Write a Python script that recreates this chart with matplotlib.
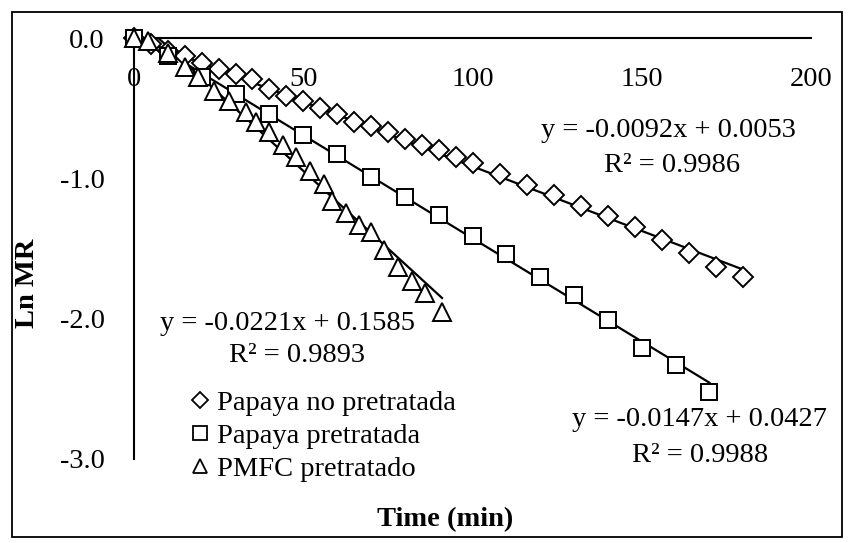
import matplotlib
matplotlib.use("Agg")
import matplotlib.pyplot as plt
from matplotlib.lines import Line2D
from matplotlib.patches import Rectangle
import numpy as np

plt.rcParams['font.family'] = ['Liberation Serif', 'DejaVu Serif']

# Papaya no pretratada (diamonds)
t_np = [0, 5, 10, 15, 20, 25, 30, 35, 40, 45, 50, 55, 60, 65, 70, 75, 80, 85, 90, 95, 100,
        108, 116, 124, 132, 140, 148, 156, 164, 172, 180]
ln_np = [0.0, -0.04, -0.09, -0.13, -0.18, -0.22, -0.26, -0.29, -0.36, -0.41, -0.45, -0.50,
         -0.54, -0.60, -0.63, -0.67, -0.72, -0.76, -0.80, -0.85, -0.89,
         -0.97, -1.05, -1.12, -1.20, -1.27, -1.35, -1.44, -1.53, -1.63, -1.70]

# Papaya pretratada (squares)
t_p = [0, 10, 20, 30, 40, 50, 60, 70, 80, 90, 100, 110, 120, 130, 140, 150, 160, 170]
ln_p = [0.0, -0.13, -0.28, -0.40, -0.54, -0.69, -0.83, -0.99, -1.13, -1.26, -1.41, -1.54,
        -1.70, -1.83, -2.01, -2.21, -2.33, -2.52]

# PMFC pretratado (triangles)
t_pm = [0, 4, 10, 15, 19, 23.5, 28, 33, 36, 40, 44, 48, 52, 56, 58.5, 62.5, 66.5, 70, 74, 78,
        82, 86, 91]
ln_pm = [0.0, -0.02, -0.11, -0.21, -0.28, -0.38, -0.45, -0.53, -0.60, -0.67, -0.76, -0.85,
         -0.95, -1.04, -1.16, -1.25, -1.33, -1.38, -1.51, -1.63, -1.73, -1.82, -1.95]

# Trendline coefficients (slope, intercept)
fit_np = (-0.0092, 0.0053)
fit_p = (-0.0147, 0.0427)
fit_pm = (-0.0221, 0.1585)

eq_np = ["y = -0.0092x + 0.0053", "R² = 0.9986"]
eq_p = ["y = -0.0147x + 0.0427", "R² = 0.9988"]
eq_pm = ["y = -0.0221x + 0.1585", "R² = 0.9893"]

labels = ["Papaya no pretratada", "Papaya pretratada", "PMFC pretratado"]

W, H = 848, 543
fig = plt.figure(figsize=(W / 100, H / 100), dpi=100)
ax = fig.add_axes([134 / W, 1 - 459 / H, (811 - 134) / W, (459 - 38) / H])

FS = 20.5
lw_line = 1.6

for t, fit in [(t_np, fit_np), (t_p, fit_p), (t_pm, fit_pm)]:
    xs = np.array([0, max(t)])
    ax.plot(xs, fit[0] * xs + fit[1], color='black', lw=lw_line, zorder=2)

ax.plot(t_np, ln_np, linestyle='none', marker='D', ms=10.5, mfc='white', mec='black', mew=1.4,
        zorder=3, clip_on=False)
ax.plot(t_p, ln_p, linestyle='none', marker='s', ms=11, mfc='white', mec='black', mew=1.4,
        zorder=3, clip_on=False)
ax.plot(t_pm, ln_pm, linestyle='none', marker='^', ms=12.5, mfc='white', mec='black', mew=1.4,
        zorder=4, clip_on=False)

ax.set_xlim(0, 200)
ax.set_ylim(-3, 0)
ax.set_xticks([0, 50, 100, 150, 200])
ax.set_yticks([0, -1, -2, -3])
ax.set_yticklabels(["0.0", "-1.0", "-2.0", "-3.0"])

for s in ['right', 'bottom']:
    ax.spines[s].set_visible(False)
ax.spines['top'].set_linewidth(1.5)
ax.spines['left'].set_linewidth(1.5)
ax.xaxis.tick_top()
ax.tick_params(axis='x', which='both', length=0, pad=0, labelsize=FS, labeltop=False, labelbottom=False)
ax.tick_params(axis='y', which='both', length=0, pad=21, labelsize=FS)
ax.patch.set_alpha(0)

# x tick labels below the top axis line
for v in [0, 50, 100, 150, 200]:
    ax.annotate(str(v), xy=(v, 0), xycoords='data', xytext=(0, -21), textcoords='offset points',
                ha='center', va='top', fontsize=FS, clip_on=False)

fig.text(445 / W, 1 - 520 / H, "Time (min)", ha='center', va='center', fontsize=FS, fontweight='bold')
fig.text(28 / W, 1 - 283 / H, "Ln MR", ha='center', va='center', rotation=90, fontsize=FS, fontweight='bold')

fig.text(668 / W, 1 - 131 / H, eq_np[0], ha='center', va='center', fontsize=FS)
fig.text(672 / W, 1 - 166 / H, eq_np[1], ha='center', va='center', fontsize=FS)
fig.text(287 / W, 1 - 323 / H, eq_pm[0], ha='center', va='center', fontsize=FS)
fig.text(297 / W, 1 - 356 / H, eq_pm[1], ha='center', va='center', fontsize=FS)
fig.text(700 / W, 1 - 420 / H, eq_p[0], ha='center', va='center', fontsize=FS)
fig.text(700 / W, 1 - 455 / H, eq_p[1], ha='center', va='center', fontsize=FS)

handles = [
    Line2D([], [], linestyle='none', marker='D', ms=8, mfc='white', mec='black', mew=1.3),
    Line2D([], [], linestyle='none', marker='s', ms=9.5, mfc='white', mec='black', mew=1.3),
    Line2D([], [], linestyle='none', marker='^', ms=10.5, mfc='white', mec='black', mew=1.3),
]
fig.legend(handles, labels, loc='upper left', bbox_to_anchor=(190 / W, 1 - 390 / H),
           frameon=False, fontsize=FS, handlelength=0.7, handletextpad=0.25,
           labelspacing=0.25, borderpad=0, borderaxespad=0)

fig.add_artist(Rectangle((12 / W, 1 - 537 / H), (842 - 12) / W, (537 - 12) / H,
                         transform=fig.transFigure, fill=False, ec='black', lw=1.3))

fig.savefig("out.png", dpi=100)
